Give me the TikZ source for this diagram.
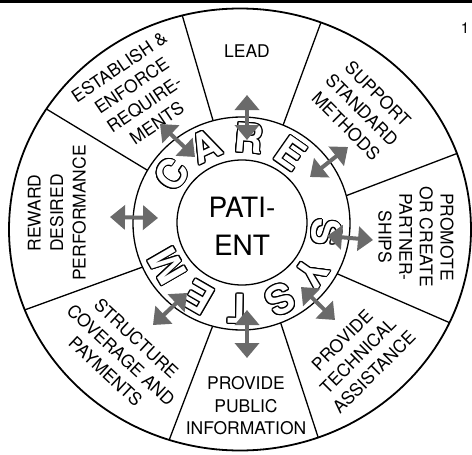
\documentclass[tikz,border=0pt]{standalone}
\usepackage{fontspec}
\setmainfont{TeX Gyre Heros}
\usepackage{contour}
\usetikzlibrary{arrows.meta,calc}
\definecolor{arrowgray}{HTML}{6A6A6A}
\contourlength{1pt}
\contournumber{16}
% white glyph with a black rim
\newcommand{\hollow}[1]{\contour{black}{\textcolor{white}{#1}}}
\tikzset{
  sector/.style={align=center, font=\fontsize{17.5}{22.5}\selectfont, inner sep=0pt},
  centre/.style={align=center, font=\fontsize{28}{38}\selectfont, inner sep=0pt},
  ringletter/.style={font=\fontsize{40}{40}\selectfont\bfseries, inner sep=0pt},
  duplex/.style={arrowgray, line width=4pt,
    {Triangle[width=24pt,length=15pt]}-{Triangle[width=24pt,length=15pt]}},
  spoke/.style={line width=1.3pt},
  rim/.style={line width=1.8pt},
  band/.style={line width=1.3pt},
}
\begin{document}
\begin{tikzpicture}[x=1pt,y=1pt]
\useasboundingbox (0,-455) rectangle (472,0);
% top rule and page number
\fill (0,0) rectangle (472,-2.5);
\node[font=\fontsize{15}{15}\selectfont, inner sep=0pt] (pageno) at (465,-28) {1};

% centres of the three rings
\coordinate (outerc) at (240,-229.5);
\coordinate (ringc) at (241.5,-223.5);
\coordinate (innerc) at (242,-222.5);

% spoke end points (inner, outer)
\coordinate (s1i) at (212,-117); \coordinate (s1o) at (183,-18);
\coordinate (s2i) at (285,-120); \coordinate (s2o) at (320,-25);
\coordinate (s3i) at (348,-195); \coordinate (s3o) at (453,-155);
\coordinate (s4i) at (340,-275); \coordinate (s4o) at (448,-322);
\coordinate (s5i) at (283,-330); \coordinate (s5o) at (320,-443);
\coordinate (s6i) at (210,-333); \coordinate (s6o) at (168,-443);
\coordinate (s7i) at (140,-268); \coordinate (s7o) at (30,-308);
\coordinate (s8i) at (147,-170); \coordinate (s8o) at (53,-113);

\begin{scope}
  \clip (outerc) ellipse [x radius=231, y radius=221];
  \foreach \k in {1,...,8}
    \draw[spoke] ($(s\k i)!-0.3!(s\k o)$) -- ($(s\k i)!1.3!(s\k o)$);
\end{scope}
\draw[rim] (outerc) ellipse [x radius=231, y radius=221];

% CARE SYSTEM band and the patient
\draw[band, fill=white] (ringc) ellipse [x radius=108.5, y radius=106.5];
\draw[band] (innerc) ellipse [x radius=65, y radius=62.5];
\node[centre] (patient) at (242,-226) {PATI-\\ENT};

\foreach \ang/\ch [count=\i] in {145/C,115/A,85/R,55/E,-6/S,-35/Y,-63/S,-91/T,-120/E,-150/M}
  \node[ringletter, rotate=\ang-90] (letter\i) at ($(ringc)+(\ang:85)$) {\hollow{\ch}};

% sector labels
\node[sector] (lead) at (247,-51) {LEAD};
\node[sector, rotate=34] (establish) at (138,-95) {ESTABLISH \&\\ENFORCE\\REQUIRE-\\MENTS};
\node[sector, rotate=-45] (support) at (362,-110) {SUPPORT\\STANDARD\\METHODS};
\node[sector, rotate=-90, font=\fontsize{17.5}{20.7}\selectfont] (promote) at (416,-237) {PROMOTE\\OR CREATE\\PARTNER-\\SHIPS};
\node[sector, rotate=45] (technical) at (358,-356) {PROVIDE\\TECHNICAL\\ASSISTANCE};
\node[sector] (public) at (246,-406) {PROVIDE\\PUBLIC\\INFORMATION};
\node[sector, rotate=-43] (structure) at (121,-355) {STRUCTURE\\COVERAGE AND\\PAYMENTS};
\node[sector, rotate=90] (reward) at (57,-213) {REWARD\\DESIRED\\PERFORMANCE};

% two-way arrows between the band and each sector
\coordinate (a1s) at (247,-95);  \coordinate (a1e) at (247,-140);
\coordinate (a2s) at (160,-124); \coordinate (a2e) at (195,-157);
\coordinate (a3s) at (310,-177); \coordinate (a3e) at (348,-147);
\coordinate (a4s) at (327,-236); \coordinate (a4e) at (373,-240);
\coordinate (a5s) at (301,-287); \coordinate (a5e) at (335,-320);
\coordinate (a6s) at (247,-310); \coordinate (a6e) at (247,-358);
\coordinate (a7s) at (153,-325); \coordinate (a7e) at (187,-293);
\coordinate (a8s) at (110,-217); \coordinate (a8e) at (158,-218);
\foreach \k in {1,...,8}
  \draw[duplex] (a\k s) -- (a\k e);
\end{tikzpicture}
\end{document}
